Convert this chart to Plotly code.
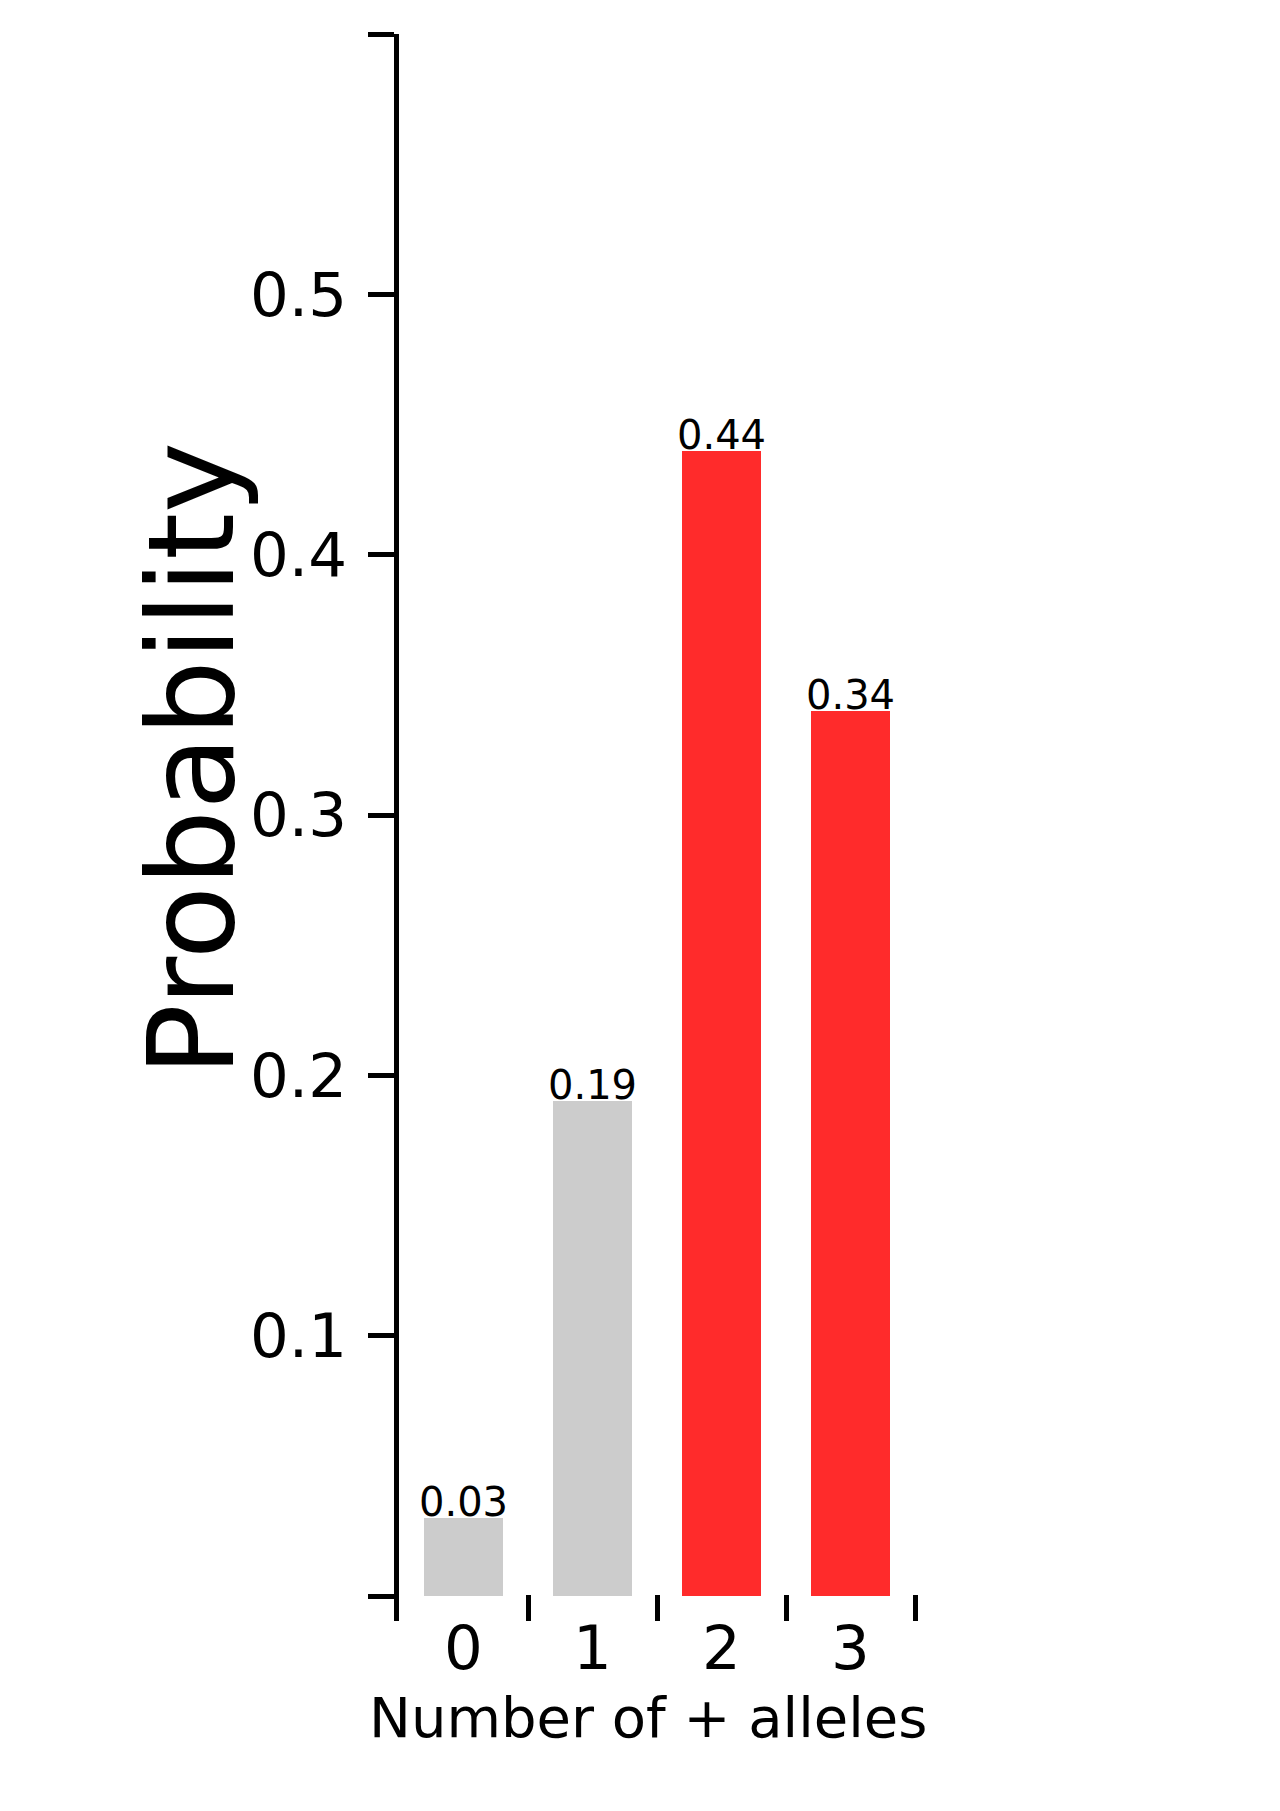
import plotly.graph_objects as go

alleles = [0, 1, 2, 3]
probs = [0.03, 0.19, 0.44, 0.34]
prob_labels = ["0.03", "0.19", "0.44", "0.34"]
y_tickvals = [0, 0.1, 0.2, 0.3, 0.4, 0.5, 0.6]
y_ticktext = ["", "0.1", "0.2", "0.3", "0.4", "0.5", ""]
boundaries = [0.5, 1.5, 2.5, 3.5]

GRAY = "#cccccc"
RED = "#ff2b2b"
bar_colors = [GRAY, GRAY, RED, RED]
FONT = "DejaVu Sans"

fig = go.Figure()
fig.add_trace(go.Bar(
    x=alleles,
    y=probs,
    width=0.61,
    marker=dict(color=bar_colors, line=dict(width=0)),
    showlegend=False,
))

# value labels sitting on top of each bar
for a, p, lab in zip(alleles, probs, prob_labels):
    fig.add_annotation(
        x=a, y=p, text=lab, showarrow=False,
        xanchor="center", yanchor="bottom", yshift=-9,
        font=dict(family=FONT, size=40, color="black"),
    )

fig.add_annotation(
    text="Probability", textangle=-90, showarrow=False,
    xref="paper", yref="paper", x=-0.403, y=0.543,
    xanchor="center", yanchor="middle",
    font=dict(family=FONT, size=120, color="black"),
)
fig.add_annotation(
    text="Number of + alleles", showarrow=False,
    xref="paper", yref="paper", x=0.4827, y=-0.061,
    xanchor="center", yanchor="middle",
    font=dict(family=FONT, size=56, color="black"),
)

fig.update_layout(
    width=1280,
    height=1811,
    margin=dict(l=391, r=373, t=26, b=198),
    paper_bgcolor="white",
    plot_bgcolor="white",
    font=dict(family=FONT, color="black"),
    bargap=0,
)
fig.update_xaxes(
    range=[-0.5, 3.5],
    tickvals=alleles,
    ticktext=[str(a) for a in alleles],
    ticks="",
    showline=False,
    showgrid=False,
    zeroline=False,
    tickfont=dict(family=FONT, size=61, color="black"),
    ticklabelstandoff=-14,
    minor=dict(tickvals=boundaries, ticks="inside", ticklen=26,
               tickwidth=4.5, tickcolor="black", showgrid=False),
)
fig.update_yaxes(
    range=[-0.0096, 0.6],
    tickvals=y_tickvals,
    ticktext=y_ticktext,
    ticks="outside",
    ticklen=26,
    tickwidth=4.5,
    tickcolor="black",
    showline=True,
    linewidth=4.5,
    linecolor="black",
    showgrid=False,
    zeroline=False,
    tickfont=dict(family=FONT, size=61, color="black"),
    ticklabelstandoff=9,
)

fig.write_html("out.html")
